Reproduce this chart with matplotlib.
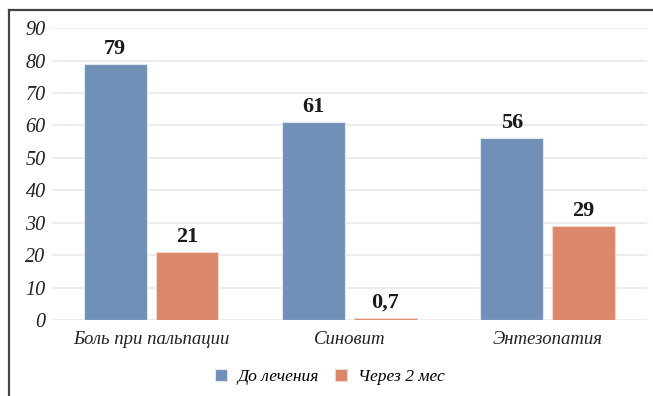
import matplotlib.pyplot as plt
import numpy as np
from matplotlib.lines import Line2D

categories = ['Боль при пальпации', 'Синовит', 'Энтезопатия']
before = [79, 61, 56]
after = [21, 0.7, 29]
series_names = ['До лечения', 'Через 2 мес']
yticks = [0, 10, 20, 30, 40, 50, 60, 70, 80, 90]

blue = '#7190b7'
orange = '#db876a'

plt.rcParams['font.family'] = ['Liberation Serif', 'DejaVu Serif']

fig = plt.figure(figsize=(6.53, 3.96), dpi=100)
ax = fig.add_axes([0.0796, 0.192, 0.911, 0.737])

x = np.arange(len(categories))
w = 0.317
off = 0.181
b1 = ax.bar(x - off, before, w, color=blue, edgecolor='#dfe6f0', linewidth=0.8,
            label=series_names[0], zorder=2)
b2 = ax.bar(x + off, after, w, color=orange, edgecolor='#f3d6cc', linewidth=0.8,
            label=series_names[1], zorder=2)

def fmt(v):
    return ('%g' % v).replace('.', ',')

for bars, vals in ((b1, before), (b2, after)):
    for r, v in zip(bars, vals):
        ax.text(r.get_x() + r.get_width() / 2, v + 1.6, fmt(v), ha='center', va='bottom',
                fontsize=16, fontweight='bold', color='#1a1a1a')

ax.set_xlim(-0.5, 2.5)
ax.set_ylim(0, 90)
ax.set_yticks(yticks)
ax.set_yticklabels([str(t) for t in yticks], fontsize=14.5, style='italic', color='#222222')
ax.set_xticks(x)
ax.set_xticklabels(categories, fontsize=13.5, style='italic', color='#222222')
ax.tick_params(length=0)
ax.tick_params(axis='y', pad=4.5)
ax.tick_params(axis='x', pad=8)
ax.grid(axis='y', color='#eee8e8', linewidth=1.2, zorder=0)
for s in ax.spines.values():
    s.set_visible(False)

fig.legend(handles=[b1, b2], labels=series_names, loc='center', bbox_to_anchor=(0.505, 0.048),
           ncol=2, frameon=False, handlelength=0.7, handleheight=0.7, handletextpad=0.6,
           columnspacing=0.9, prop={'size': 12.6, 'style': 'italic'})

# outer frame, left and top edges only
fig.add_artist(Line2D([0.0138, 0.0138], [0, 0.974], color='#444444', linewidth=1.6))
fig.add_artist(Line2D([0.0138, 1], [0.974, 0.974], color='#444444', linewidth=1.6))

fig.savefig('out.png', dpi=100)
